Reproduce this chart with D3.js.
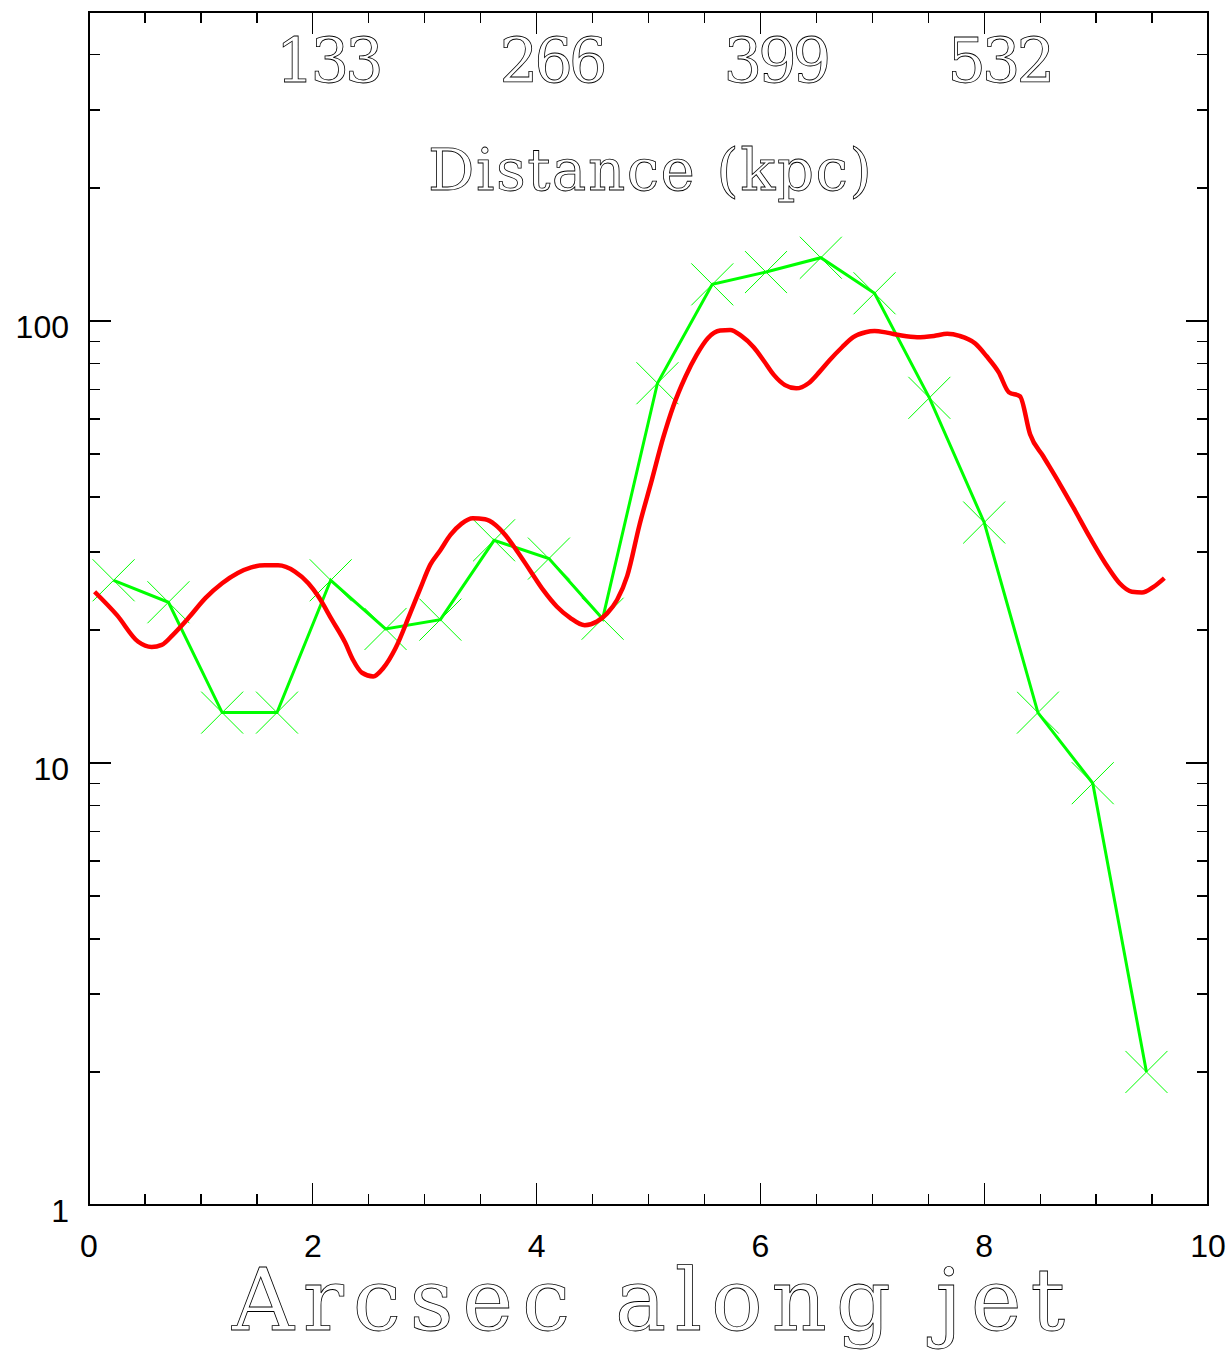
<!DOCTYPE html>
<meta charset="utf-8">
<style>
  body { margin: 0; background: #fff; }
</style>

<!-- Load d3.js -->
<script src="https://d3js.org/d3.v7.min.js"></script>

<svg id="jet" width="1231" height="1353"></svg>

<script>
// knots (green, X markers)
var knotArcsec = [0.22, 0.71, 1.19, 1.68, 2.16, 2.65, 3.14, 3.62, 4.11, 4.59,
                  5.08, 5.57, 6.05, 6.54, 7.02, 7.51, 8.00, 8.48, 8.97, 9.45]
var knotFlux = [25.9, 23.1, 13.0, 13.0, 25.9, 20.1, 21.1, 31.9, 29.0, 21.2,
                72.3, 121, 129, 139, 115.5, 67, 35.0, 13.0, 9.0, 2.0]

// smooth profile (red)
var profArcsec = [0.05, 0.25, 0.44, 0.56, 0.65, 0.75, 0.89, 1.04, 1.19, 1.33,
                  1.45, 1.57, 1.69, 1.84, 1.96, 2.05, 2.17, 2.29, 2.36, 2.44,
                  2.54, 2.63, 2.74, 2.87, 2.96, 3.05, 3.14, 3.23, 3.33, 3.43,
                  3.54, 3.63, 3.72, 3.82, 3.94, 4.06, 4.18, 4.30, 4.43, 4.54,
                  4.63, 4.72, 4.81, 4.92, 5.03, 5.13, 5.22, 5.33, 5.43, 5.53,
                  5.64, 5.73, 5.83, 5.94, 6.03, 6.12, 6.22, 6.32, 6.43, 6.53,
                  6.62, 6.73, 6.83, 6.94, 7.02, 7.13, 7.25, 7.40, 7.55, 7.67,
                  7.78, 7.92, 8.02, 8.13, 8.22, 8.32, 8.41, 8.53, 8.68, 8.80,
                  8.95, 9.11, 9.21, 9.32, 9.41, 9.51, 9.61]
var profFlux = [24.4, 21.6, 18.8, 18.3, 18.5, 19.5, 21.3, 23.6, 25.5, 26.9,
                27.7, 28.0, 28.0, 27.1, 25.5, 23.8, 21.1, 18.7, 17.1, 16.0,
                15.7, 16.4, 18.2, 21.8, 24.8, 28.1, 30.3, 32.8, 34.8, 35.8,
                35.6, 34.6, 32.8, 30.3, 27.3, 24.6, 22.6, 21.3, 20.5, 20.9,
                21.8, 23.4, 26.5, 34.6, 43.7, 54.3, 64.0, 74.8, 83.8, 91.4,
                95.1, 95.4, 92.5, 87.2, 81.3, 75.5, 71.6, 70.4, 72.3, 76.8,
                81.6, 87.2, 91.9, 94.3, 94.9, 94.1, 92.8, 91.9, 92.5, 93.5,
                92.5, 88.9, 83.3, 76.5, 69.0, 67.5, 55.4, 49.3, 42.6, 37.7,
                32.2, 27.6, 25.5, 24.4, 24.3, 25.0, 26.2]

var xMajor = [0, 2, 4, 6, 8, 10]
var yMajor = [1, 10, 100]
var kpcAt = [2, 4, 6, 8]
var kpcLabels = ["133", "266", "399", "532"]

var svg = d3.select("#jet")

var x = d3.scaleLinear().domain([0, 10]).range([89, 1208])
var y = d3.scaleLog().domain([1, 500]).range([1205, 12])

var pLeft = 89, pRight = 1208, pTop = 12, pBottom = 1205

// tick lists
var xMinor = d3.range(0.5, 10, 0.5).filter(d => d % 2 != 0)
var yMinor = []
yMajor.forEach(function(dec) {
  for (var m = 2; m <= 9; m++) if (dec * m < 500) yMinor.push(dec * m)
})

var axes = svg.append("g").attr("stroke", "#000").attr("shape-rendering", "crispEdges")

function tickX(list, len) {
  axes.selectAll(null).data(list).enter().append("line")
    .attr("x1", d => x(d)).attr("x2", d => x(d))
    .attr("y1", pBottom).attr("y2", pBottom - len).attr("stroke-width", 1.3)
  axes.selectAll(null).data(list).enter().append("line")
    .attr("x1", d => x(d)).attr("x2", d => x(d))
    .attr("y1", pTop).attr("y2", pTop + len).attr("stroke-width", 1.3)
}
function tickY(list, len) {
  axes.selectAll(null).data(list).enter().append("line")
    .attr("y1", d => y(d)).attr("y2", d => y(d))
    .attr("x1", pLeft).attr("x2", pLeft + len).attr("stroke-width", 1.3)
  axes.selectAll(null).data(list).enter().append("line")
    .attr("y1", d => y(d)).attr("y2", d => y(d))
    .attr("x1", pRight).attr("x2", pRight - len).attr("stroke-width", 1.3)
}
tickX(xMinor, 11)
tickX(xMajor, 22)
tickY(yMinor, 11)
tickY(yMajor, 22)

axes.append("rect")
  .attr("x", pLeft).attr("y", pTop)
  .attr("width", pRight - pLeft).attr("height", pBottom - pTop)
  .attr("fill", "none").attr("stroke-width", 2)

// tick labels
svg.selectAll(null).data(xMajor).enter().append("text")
  .attr("x", d => x(d)).attr("y", 1257)
  .attr("text-anchor", "middle")
  .style("font-family", "Liberation Sans, Arial, sans-serif")
  .style("font-size", "32px")
  .text(d => d)

svg.selectAll(null).data(yMajor).enter().append("text")
  .attr("x", 69).attr("y", d => y(d) + 17)
  .attr("text-anchor", "end")
  .style("font-family", "Liberation Sans, Arial, sans-serif")
  .style("font-size", "32px")
  .text(d => d)

// hershey-ish outlined text
function outlined(sel) {
  return sel.style("font-family", "DejaVu Serif, Liberation Serif, serif")
    .attr("fill", "#fff").attr("stroke", "#000").attr("stroke-width", 0.8)
    .attr("lengthAdjust", "spacing")
}

svg.selectAll(null).data(kpcAt).enter().append("text")
  .attr("x", d => x(d) + 17).attr("y", 82)
  .attr("text-anchor", "middle")
  .style("font-size", "61px")
  .attr("textLength", 108)
  .call(outlined)
  .text((d, i) => kpcLabels[i])

svg.append("text")
  .attr("x", 428).attr("y", 190)
  .style("font-size", "58px")
  .attr("textLength", 444)
  .call(outlined)
  .text("Distance (kpc)")

svg.append("text")
  .attr("x", 232).attr("y", 1330)
  .style("font-size", "86px")
  .attr("textLength", 833)
  .call(outlined)
  .text("Arcsec along jet")

// green knots
var knots = knotArcsec.map((d, i) => [d, knotFlux[i]])
var line = d3.line().x(d => x(d[0])).y(d => y(d[1]))

svg.append("path")
  .datum(knots)
  .attr("d", line)
  .attr("fill", "none")
  .attr("stroke", "#00ff00")
  .attr("stroke-width", 3)

var s = 21
svg.selectAll(null).data(knots).enter().append("path")
  .attr("d", d => {
    var cx = x(d[0]), cy = y(d[1])
    return "M" + (cx - s) + "," + (cy - s) + "L" + (cx + s) + "," + (cy + s) +
           "M" + (cx - s) + "," + (cy + s) + "L" + (cx + s) + "," + (cy - s)
  })
  .attr("stroke", "#00ff00")
  .attr("stroke-width", 1)

// red profile
var prof = profArcsec.map((d, i) => [d, profFlux[i]])
var smooth = d3.line().curve(d3.curveMonotoneX).x(d => x(d[0])).y(d => y(d[1]))
svg.append("path")
  .datum(prof)
  .attr("d", smooth)
  .attr("fill", "none")
  .attr("stroke", "#ff0000")
  .attr("stroke-width", 4.5)
  .attr("stroke-linejoin", "round")
</script>
